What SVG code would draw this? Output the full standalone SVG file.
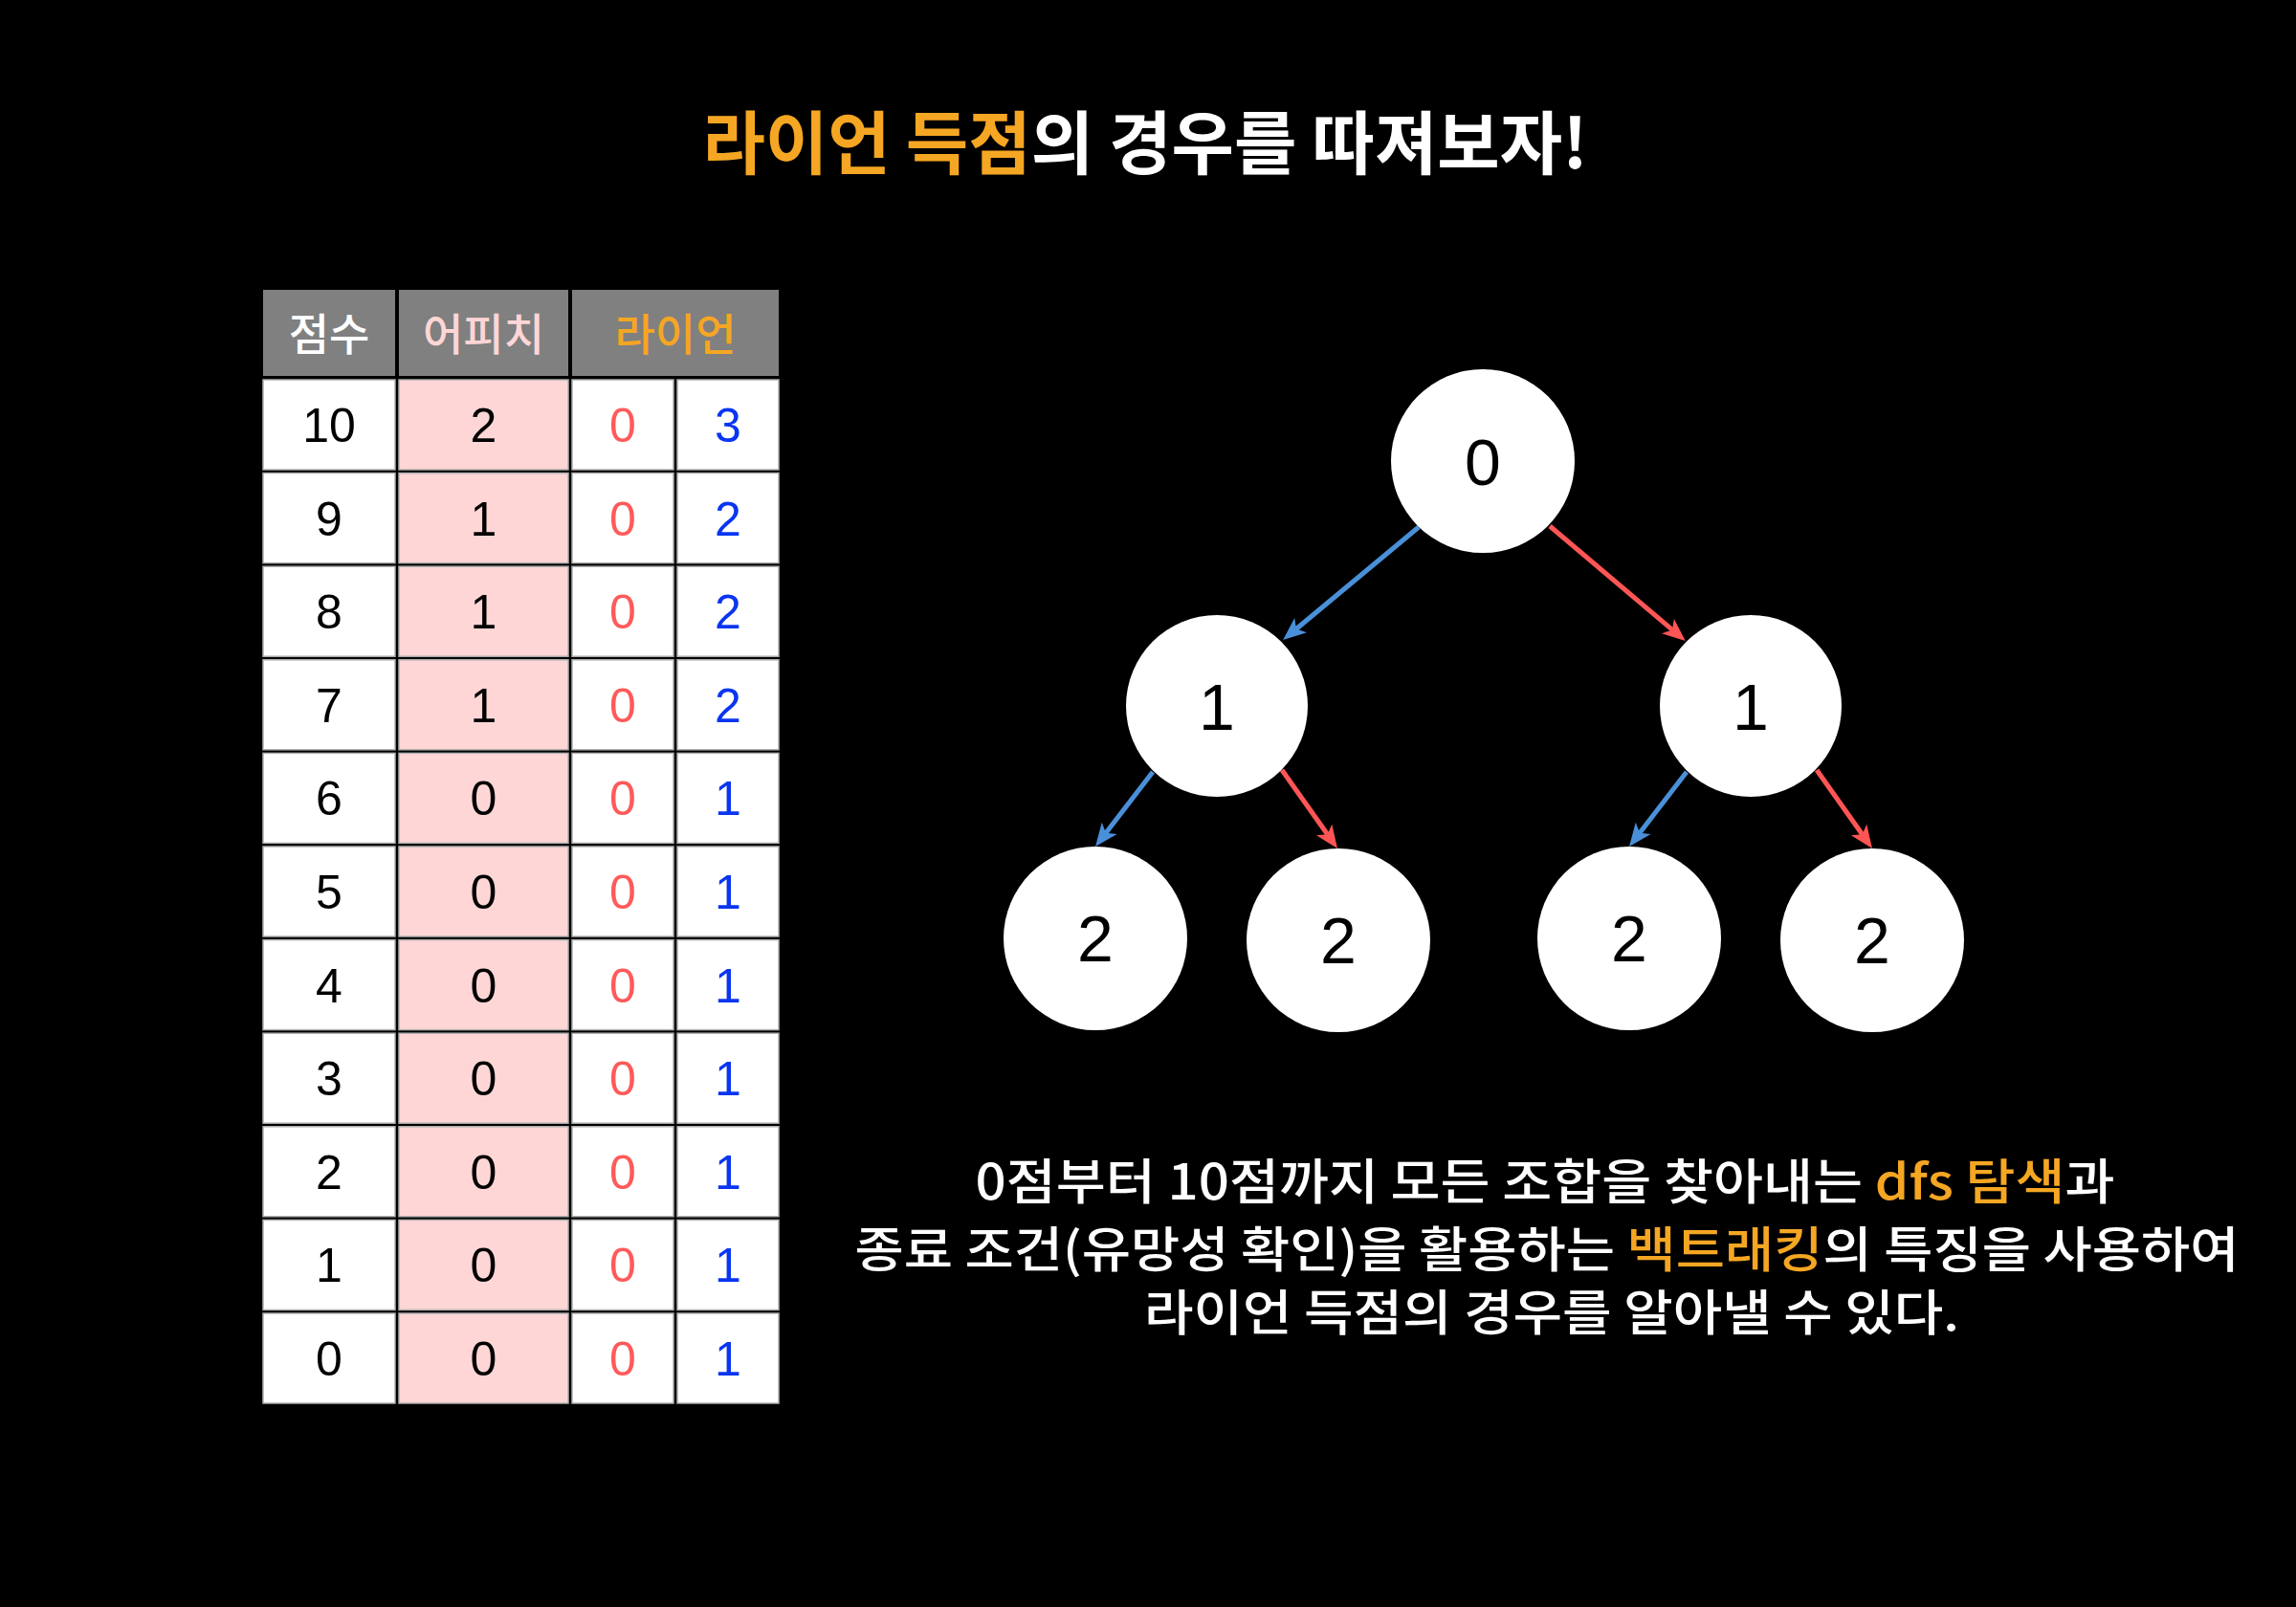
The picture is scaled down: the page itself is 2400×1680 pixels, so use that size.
<svg xmlns="http://www.w3.org/2000/svg" width="2400" height="1680" viewBox="0 0 2400 1680">
<defs>
<style>
.ko{font-family:"Noto Sans CJK KR","Noto Sans",sans-serif;}
.num{font-family:"Liberation Sans",Arial,sans-serif;font-size:50px;text-anchor:middle;}
.hd{font-family:"Noto Sans CJK KR",sans-serif;font-size:46px;font-weight:500;text-anchor:middle;}
.org{fill:#F5A623;}
.wh{fill:#FFFFFF;}
.pk{fill:#FFD6D6;}
.cw{fill:#FFFFFF;stroke:#B0B0B0;stroke-width:1.5;}
.cp{fill:#FFD6D6;stroke:#B0B0B0;stroke-width:1.5;}
.hdr{fill:#808080;}
.r{fill:#FF5A5A;}
.b{fill:#0A35F0;}
.k{fill:#000000;}
.node{fill:#FFFFFF;}
.nt{font-family:"Liberation Sans",Arial,sans-serif;font-size:68px;text-anchor:middle;fill:#000;}
.eb{stroke:#4A90D9;stroke-width:5;fill:none;marker-end:url(#ab);}
.er{stroke:#FF5555;stroke-width:5;fill:none;marker-end:url(#ar);}
.cap{font-size:51px;font-weight:500;text-anchor:middle;}
</style>
<marker id="ab" viewBox="0 -11 25 22" markerWidth="25" markerHeight="22" refX="6" refY="0" orient="auto" markerUnits="userSpaceOnUse"><path d="M0,-10 L24,0 L0,10 L6,0 Z" fill="#4A90D9"/></marker>
<marker id="ar" viewBox="0 -11 25 22" markerWidth="25" markerHeight="22" refX="6" refY="0" orient="auto" markerUnits="userSpaceOnUse"><path d="M0,-10 L24,0 L0,10 L6,0 Z" fill="#FF5555"/></marker>
</defs>
<rect x="0" y="0" width="2400" height="1680" fill="#000"/>

<g id="title">
<text class="ko" x="1197" y="176" font-size="72" font-weight="700" text-anchor="middle" textLength="925" lengthAdjust="spacingAndGlyphs"><tspan class="org">라이언 득점</tspan><tspan class="wh">의 경우를 따져보자!</tspan></text>
</g>

<g id="table">
<g id="header">
<rect class="hdr" x="275" y="303" width="138" height="90"/>
<rect class="hdr" x="417" y="303" width="177" height="90"/>
<rect class="hdr" x="598" y="303" width="216" height="90"/>
<text class="hd wh" x="344" y="366">점수</text>
<text class="hd pk" x="505.5" y="366">어피치</text>
<text class="hd org" x="706" y="366">라이언</text>
</g>
<g id="row10" transform="translate(0,397)">
<rect class="cw" x="275" y="0" width="138" height="94"/><rect class="cp" x="417" y="0" width="177" height="94"/><rect class="cw" x="598" y="0" width="106" height="94"/><rect class="cw" x="708" y="0" width="106" height="94"/>
<text class="num k" x="344" y="65">10</text><text class="num k" x="505.5" y="65">2</text><text class="num r" x="651" y="65">0</text><text class="num b" x="761" y="65">3</text>
</g>
<g id="row9" transform="translate(0,494.6)">
<rect class="cw" x="275" y="0" width="138" height="94"/><rect class="cp" x="417" y="0" width="177" height="94"/><rect class="cw" x="598" y="0" width="106" height="94"/><rect class="cw" x="708" y="0" width="106" height="94"/>
<text class="num k" x="344" y="65">9</text><text class="num k" x="505.5" y="65">1</text><text class="num r" x="651" y="65">0</text><text class="num b" x="761" y="65">2</text>
</g>
<g id="row8" transform="translate(0,592.2)">
<rect class="cw" x="275" y="0" width="138" height="94"/><rect class="cp" x="417" y="0" width="177" height="94"/><rect class="cw" x="598" y="0" width="106" height="94"/><rect class="cw" x="708" y="0" width="106" height="94"/>
<text class="num k" x="344" y="65">8</text><text class="num k" x="505.5" y="65">1</text><text class="num r" x="651" y="65">0</text><text class="num b" x="761" y="65">2</text>
</g>
<g id="row7" transform="translate(0,689.8)">
<rect class="cw" x="275" y="0" width="138" height="94"/><rect class="cp" x="417" y="0" width="177" height="94"/><rect class="cw" x="598" y="0" width="106" height="94"/><rect class="cw" x="708" y="0" width="106" height="94"/>
<text class="num k" x="344" y="65">7</text><text class="num k" x="505.5" y="65">1</text><text class="num r" x="651" y="65">0</text><text class="num b" x="761" y="65">2</text>
</g>
<g id="row6" transform="translate(0,787.4)">
<rect class="cw" x="275" y="0" width="138" height="94"/><rect class="cp" x="417" y="0" width="177" height="94"/><rect class="cw" x="598" y="0" width="106" height="94"/><rect class="cw" x="708" y="0" width="106" height="94"/>
<text class="num k" x="344" y="65">6</text><text class="num k" x="505.5" y="65">0</text><text class="num r" x="651" y="65">0</text><text class="num b" x="761" y="65">1</text>
</g>
<g id="row5" transform="translate(0,885)">
<rect class="cw" x="275" y="0" width="138" height="94"/><rect class="cp" x="417" y="0" width="177" height="94"/><rect class="cw" x="598" y="0" width="106" height="94"/><rect class="cw" x="708" y="0" width="106" height="94"/>
<text class="num k" x="344" y="65">5</text><text class="num k" x="505.5" y="65">0</text><text class="num r" x="651" y="65">0</text><text class="num b" x="761" y="65">1</text>
</g>
<g id="row4" transform="translate(0,982.6)">
<rect class="cw" x="275" y="0" width="138" height="94"/><rect class="cp" x="417" y="0" width="177" height="94"/><rect class="cw" x="598" y="0" width="106" height="94"/><rect class="cw" x="708" y="0" width="106" height="94"/>
<text class="num k" x="344" y="65">4</text><text class="num k" x="505.5" y="65">0</text><text class="num r" x="651" y="65">0</text><text class="num b" x="761" y="65">1</text>
</g>
<g id="row3" transform="translate(0,1080.2)">
<rect class="cw" x="275" y="0" width="138" height="94"/><rect class="cp" x="417" y="0" width="177" height="94"/><rect class="cw" x="598" y="0" width="106" height="94"/><rect class="cw" x="708" y="0" width="106" height="94"/>
<text class="num k" x="344" y="65">3</text><text class="num k" x="505.5" y="65">0</text><text class="num r" x="651" y="65">0</text><text class="num b" x="761" y="65">1</text>
</g>
<g id="row2" transform="translate(0,1177.8)">
<rect class="cw" x="275" y="0" width="138" height="94"/><rect class="cp" x="417" y="0" width="177" height="94"/><rect class="cw" x="598" y="0" width="106" height="94"/><rect class="cw" x="708" y="0" width="106" height="94"/>
<text class="num k" x="344" y="65">2</text><text class="num k" x="505.5" y="65">0</text><text class="num r" x="651" y="65">0</text><text class="num b" x="761" y="65">1</text>
</g>
<g id="row1" transform="translate(0,1275.4)">
<rect class="cw" x="275" y="0" width="138" height="94"/><rect class="cp" x="417" y="0" width="177" height="94"/><rect class="cw" x="598" y="0" width="106" height="94"/><rect class="cw" x="708" y="0" width="106" height="94"/>
<text class="num k" x="344" y="65">1</text><text class="num k" x="505.5" y="65">0</text><text class="num r" x="651" y="65">0</text><text class="num b" x="761" y="65">1</text>
</g>
<g id="row0" transform="translate(0,1373)">
<rect class="cw" x="275" y="0" width="138" height="94"/><rect class="cp" x="417" y="0" width="177" height="94"/><rect class="cw" x="598" y="0" width="106" height="94"/><rect class="cw" x="708" y="0" width="106" height="94"/>
<text class="num k" x="344" y="65">0</text><text class="num k" x="505.5" y="65">0</text><text class="num r" x="651" y="65">0</text><text class="num b" x="761" y="65">1</text>
</g>
</g>

<g id="connectors">
<line class="eb" x1="1483" y1="551" x2="1355" y2="657.5"/>
<line class="er" x1="1620" y1="550" x2="1748" y2="658.4"/>
<line class="eb" x1="1205" y1="807" x2="1156" y2="870.7"/>
<line class="er" x1="1340" y1="805" x2="1387.6" y2="872.3"/>
<line class="eb" x1="1763" y1="807" x2="1714" y2="870.7"/>
<line class="er" x1="1899" y1="805" x2="1946.6" y2="872.3"/>
</g>

<g id="n0"><circle class="node" cx="1550" cy="482" r="96"/><text class="nt" x="1550" y="507">0</text></g>
<g id="n1a"><circle class="node" cx="1272" cy="738" r="95"/><text class="nt" x="1272" y="763">1</text></g>
<g id="n1b"><circle class="node" cx="1830" cy="738" r="95"/><text class="nt" x="1830" y="763">1</text></g>
<g id="n2a"><circle class="node" cx="1145" cy="981" r="96"/><text class="nt" x="1145" y="1005">2</text></g>
<g id="n2b"><circle class="node" cx="1399" cy="983" r="96"/><text class="nt" x="1399" y="1007">2</text></g>
<g id="n2c"><circle class="node" cx="1703" cy="981" r="96"/><text class="nt" x="1703" y="1005">2</text></g>
<g id="n2d"><circle class="node" cx="1957" cy="983" r="96"/><text class="nt" x="1957" y="1007">2</text></g>

<g id="caption">
<text class="ko cap" x="1615" y="1254" textLength="1191" lengthAdjust="spacingAndGlyphs"><tspan class="wh">0점부터 10점까지 모든 조합을 찾아내는 </tspan><tspan class="org">dfs 탐색</tspan><tspan class="wh">과</tspan></text>
<text class="ko cap" x="1617" y="1325" textLength="1447" lengthAdjust="spacingAndGlyphs"><tspan class="wh">종료 조건(유망성 확인)을 활용하는 </tspan><tspan class="org">백트래킹</tspan><tspan class="wh">의 특징을 사용하여</tspan></text>
<text class="ko cap wh" x="1622" y="1391" textLength="852" lengthAdjust="spacingAndGlyphs">라이언 득점의 경우를 알아낼 수 있다.</text>
</g>
</svg>
